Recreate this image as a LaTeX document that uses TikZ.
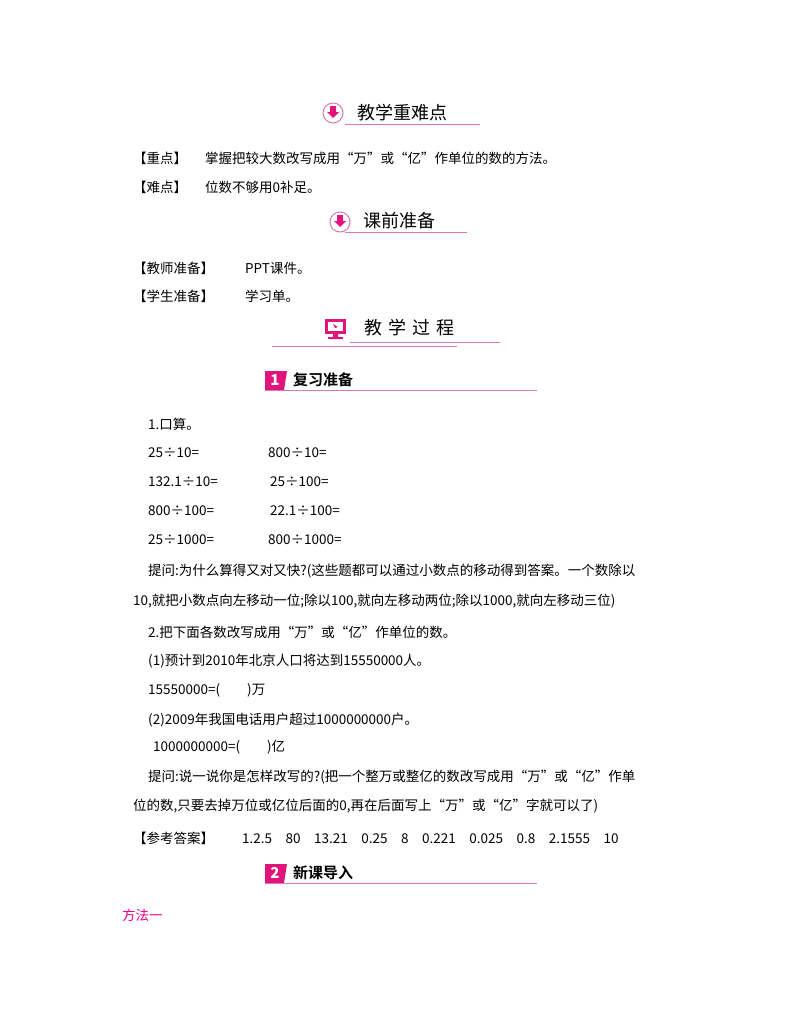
\documentclass[tikz,border=0pt]{standalone}
\usepackage{fontspec}
\setmainfont{Noto Sans CJK SC}
\newfontfamily\cjkb{Noto Sans CJK SC}[BoldFont={* Bold}]
\definecolor{pk}{HTML}{E0147A}
\definecolor{pl}{HTML}{D878B0}
\begin{document}
\begin{tikzpicture}[x=1pt,y=-1pt,
  t/.style={anchor=west,inner sep=0pt,font=\fontsize{13.5pt}{14pt}\selectfont},
  hd/.style={anchor=west,inner sep=0pt,font=\fontsize{18pt}{19pt}\selectfont},
  ul/.style={draw=pl,line width=1pt}]
\useasboundingbox (0,0) rectangle (800,1028);
% header 1
\node[circle,draw=pl,line width=1pt,minimum size=20pt,inner sep=0pt] (i1) at (333,113) {};
\fill[pk] (330,106) rectangle (336,112) (327,112) -- (339,112) -- (333,118) -- cycle;
\node[hd] (h1) at (357,113) {教学重难点};
\draw[ul] (345,124) -- (480,124);
\node[t] (a1) at (133,158) {【重点】\hspace{18pt}掌握把较大数改写成用“万”或“亿”作单位的数的方法。};
\node[t] (a2) at (133,187) {【难点】\hspace{18pt}位数不够用0补足。};
% header 2
\node[circle,draw=pl,line width=1pt,minimum size=20pt,inner sep=0pt] (i2) at (340,222) {};
\fill[pk] (337,215) rectangle (343,221) (334,221) -- (346,221) -- (340,227) -- cycle;
\node[hd] (h2) at (363,221) {课前准备};
\draw[ul] (345,232) -- (467,232);
\node[t] (b1) at (133,268) {【教师准备】\hspace{31pt}PPT课件。};
\node[t] (b2) at (133,296) {【学生准备】\hspace{31pt}学习单。};
% header 3
\fill[pk] (325,319) rectangle (346,334);
\fill[white] (328,322) rectangle (343,331);
\fill[pk] (333,334) rectangle (338,337) (328,337) rectangle (343,339);
\fill[pk] (333,324) -- (338,327) -- (335,328) -- cycle;
\node[hd] (h3) at (364,328) {教\,\,学\,\,过\,\,程};
\draw[ul] (350,342) -- (500,342);
\draw[ul] (272,346) -- (457,346);
% header 4
\fill[pk] (265,371) -- (287,371) -- (284,390) -- (265,390) -- cycle;
\node[font=\bfseries\itshape\color{white}\fontsize{15pt}{15pt}\selectfont] (n1) at (275,380) {1};
\node[hd,font=\cjkb\bfseries\fontsize{15pt}{16pt}\selectfont] (h4) at (293,380) {复习准备};
\draw[ul] (265,390) -- (537,390);
\node[t] (c0) at (148,424) {1.口算。};
\node[t] at (148,453) {25÷10=};
\node[t] at (268,453) {800÷10=};
\node[t] at (148,482) {132.1÷10=};
\node[t] at (270,482) {25÷100=};
\node[t] at (148,511) {800÷100=};
\node[t] at (270,511) {22.1÷100=};
\node[t] at (148,540) {25÷1000=};
\node[t] at (268,540) {800÷1000=};
\node[t] (c1) at (148,571) {提问:为什么算得又对又快?(这些题都可以通过小数点的移动得到答案。一个数除以};
\node[t] (c2) at (133,601) {10,就把小数点向左移动一位;除以100,就向左移动两位;除以1000,就向左移动三位)};
\node[t] at (148,632) {2.把下面各数改写成用“万”或“亿”作单位的数。};
\node[t] at (148,661) {(1)预计到2010年北京人口将达到15550000人。};
\node[t] at (148,690) {15550000=(\qquad)万};
\node[t] at (148,720) {(2)2009年我国电话用户超过1000000000户。};
\node[t] at (153,747) {1000000000=(\qquad)亿};
\node[t] at (148,777) {提问:说一说你是怎样改写的?(把一个整万或整亿的数改写成用“万”或“亿”作单};
\node[t] at (133,806) {位的数,只要去掉万位或亿位后面的0,再在后面写上“万”或“亿”字就可以了)};
\node[t] at (133,838) {【参考答案】\hspace{28pt}1.2.5\quad 80\quad 13.21\quad 0.25\quad 8\quad 0.221\quad 0.025\quad 0.8\quad 2.1555\quad 10};
% header 5
\fill[pk] (265,864) -- (287,864) -- (284,883) -- (265,883) -- cycle;
\node[font=\bfseries\itshape\color{white}\fontsize{15pt}{15pt}\selectfont] (n2) at (275,873) {2};
\node[hd,font=\cjkb\bfseries\fontsize{15pt}{16pt}\selectfont] (h5) at (293,873) {新课导入};
\draw[ul] (265,883) -- (537,883);
\node[t,text=magenta] (m) at (122,915) {方法一};
\end{tikzpicture}
\end{document}
